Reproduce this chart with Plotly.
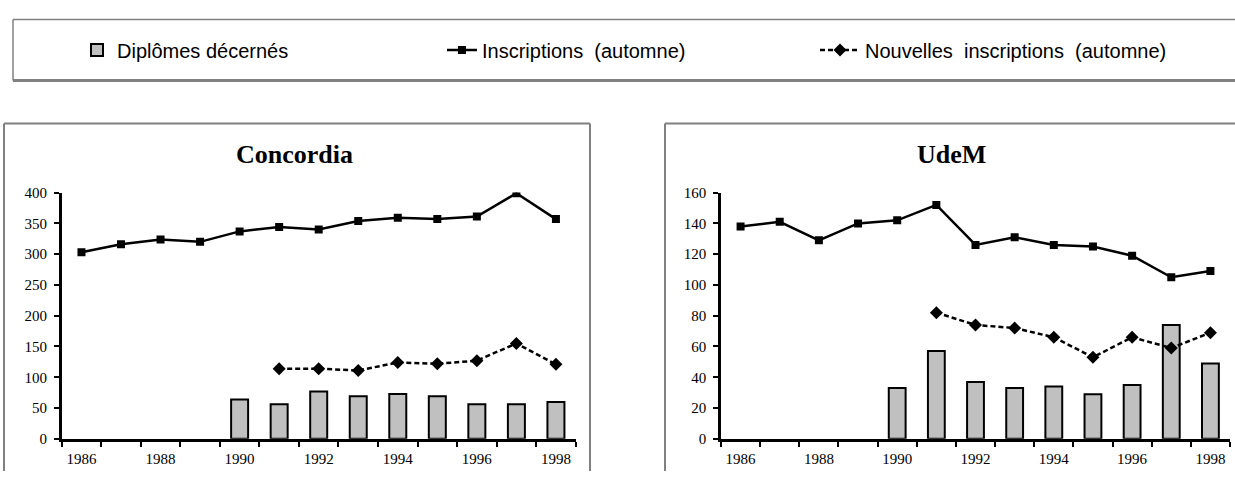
import plotly.graph_objects as go

# ---------------- data ----------------
years = [1986, 1987, 1988, 1989, 1990, 1991, 1992, 1993, 1994, 1995, 1996, 1997, 1998]
label_years = [1986, 1988, 1990, 1992, 1994, 1996, 1998]

bar_years = [1990, 1991, 1992, 1993, 1994, 1995, 1996, 1997, 1998]
new_years = [1991, 1992, 1993, 1994, 1995, 1996, 1997, 1998]

conc_inscr = [303, 316, 324, 320, 337, 344, 340, 354, 359, 357, 361, 399, 357]
conc_new = [114, 114, 111, 124, 122, 127, 155, 121]
conc_dipl = [64, 56, 77, 69, 73, 69, 56, 56, 60]

udem_inscr = [138, 141, 129, 140, 142, 152, 126, 131, 126, 125, 119, 105, 109]
udem_new = [82, 74, 72, 66, 53, 66, 59, 69]
udem_dipl = [33, 57, 37, 33, 34, 29, 35, 74, 49]

names = ["Diplômes décernés", "Inscriptions  (automne)", "Nouvelles  inscriptions  (automne)"]
titles = ["Concordia", "UdeM"]

# ---------------- figure ----------------
W, H = 1235, 479
def px(x):
    return x / W
def py(y):
    return 1 - y / H

fig = go.Figure()
serif = "Times New Roman, Liberation Serif, serif"
sans = "Arial, Liberation Sans, sans-serif"

datasets = [
    (conc_dipl, conc_inscr, conc_new, "x", "y"),
    (udem_dipl, udem_inscr, udem_new, "x2", "y2"),
]
for i, (dipl, inscr, new, xa, ya) in enumerate(datasets):
    show = i == 0
    fig.add_trace(go.Bar(
        x=bar_years, y=dipl, name=names[0], width=0.43,
        marker=dict(color="#C0C0C0", line=dict(color="black", width=2)),
        xaxis=xa, yaxis=ya, showlegend=show, legend="legend", legendgroup="d"))
    fig.add_trace(go.Scatter(
        x=years, y=inscr, name=names[1], mode="lines+markers",
        line=dict(color="black", width=2.5),
        marker=dict(symbol="square", size=8, color="black"),
        xaxis=xa, yaxis=ya, showlegend=show, legend="legend2", legendgroup="i"))
    fig.add_trace(go.Scatter(
        x=new_years, y=new, name=names[2], mode="lines+markers",
        line=dict(color="black", width=2.5, dash="5px,3px"),
        marker=dict(symbol="diamond", size=10, color="black"),
        xaxis=xa, yaxis=ya, showlegend=show, legend="legend3", legendgroup="n"))

boundaries = [y - 0.5 for y in years] + [years[-1] + 0.5]
xr = [years[0] - 0.5, years[-1] + 0.5]

ydom = [py(445.7), py(191)]
xdoms = [[px(61.7), px(575.7)], [px(721), px(1230)]]
yranges = [[0, 400], [0, 160]]
ydticks = [50, 20]

tickfont = dict(family=serif, size=15, color="black")
layout = dict(
    width=W, height=H, margin=dict(l=0, r=0, t=0, b=0),
    paper_bgcolor="white", plot_bgcolor="rgba(0,0,0,0)",
    barmode="overlay", showlegend=True,
)
for i in range(2):
    n = "" if i == 0 else "2"
    on = 3 + i
    layout["xaxis" + n] = dict(
        domain=xdoms[i], range=xr, anchor="y" + n,
        showline=True, linecolor="black", linewidth=2.5,
        tickvals=label_years, ticktext=[str(v) for v in label_years],
        ticks="outside", ticklen=4, tickcolor="rgba(0,0,0,0)",
        showgrid=False, zeroline=False, tickfont=tickfont,
        minor=dict(tickvals=boundaries, ticks="outside", ticklen=5, tickwidth=2,
                   tickcolor="black", showgrid=False),
    )
    layout["xaxis%d" % on] = dict(
        domain=xdoms[i], range=xr, anchor="y" + n, overlaying="x" + n,
        showline=False, tickvals=boundaries, ticks="inside", ticklen=5,
        tickwidth=2, tickcolor="black", showticklabels=False, showgrid=False,
        zeroline=False,
    )
    layout["yaxis" + n] = dict(
        domain=ydom, range=yranges[i], anchor="x" + n, dtick=ydticks[i],
        showline=True, linecolor="black", linewidth=2.5,
        ticks="outside", ticklen=5, tickwidth=2, tickcolor="black",
        ticklabelstandoff=4,
        showgrid=False, zeroline=False, tickfont=tickfont,
    )
    layout["yaxis%d" % on] = dict(
        domain=ydom, range=yranges[i], anchor="x" + n, overlaying="y" + n,
        side="left", dtick=ydticks[i], ticks="inside", ticklen=5, tickwidth=2,
        tickcolor="black", showticklabels=False, showgrid=False, zeroline=False,
        showline=False,
    )

legfont = dict(family=sans, size=20, color="black")
ly = py(43.5)
layout["legend"] = dict(x=px(77), y=ly, xanchor="left", yanchor="middle",
                        font=legfont, bgcolor="rgba(0,0,0,0)", borderwidth=0)
layout["legend2"] = dict(x=px(442), y=ly, xanchor="left", yanchor="middle",
                         font=legfont, bgcolor="rgba(0,0,0,0)", borderwidth=0)
layout["legend3"] = dict(x=px(815), y=ly, xanchor="left", yanchor="middle",
                         font=legfont, bgcolor="rgba(0,0,0,0)", borderwidth=0,
                         itemwidth=40)

fig.update_layout(**layout)

gray = "#808080"
shapes = [
    # legend frame
    dict(type="line", x0=px(13), x1=1.0, y0=py(12), y1=py(12), line=dict(color=gray, width=1.5)),
    dict(type="line", x0=px(13), x1=px(13), y0=py(12), y1=py(75), line=dict(color=gray, width=1.5)),
    dict(type="line", x0=px(13), x1=1.0, y0=py(75), y1=py(75), line=dict(color=gray, width=3)),
    # chart frames
    dict(type="line", x0=px(4), x1=px(590), y0=py(119.5), y1=py(119.5), line=dict(color=gray, width=2)),
    dict(type="line", x0=px(4), x1=px(4), y0=py(119.5), y1=0, line=dict(color=gray, width=2)),
    dict(type="line", x0=px(590), x1=px(590), y0=py(119.5), y1=0, line=dict(color=gray, width=2)),
    dict(type="line", x0=px(665), x1=1.0, y0=py(119.5), y1=py(119.5), line=dict(color=gray, width=2)),
    dict(type="line", x0=px(665), x1=px(665), y0=py(119.5), y1=0, line=dict(color=gray, width=2)),
]
for s in shapes:
    s.update(xref="paper", yref="paper", layer="below")
fig.update_layout(shapes=shapes)

title_x = [294, 951.7]
for t, xc in zip(titles, title_x):
    fig.add_annotation(text="<b>%s</b>" % t, x=px(xc), y=py(152), xref="paper", yref="paper",
                       xanchor="center", yanchor="middle", showarrow=False,
                       font=dict(family=serif, size=26, color="black"))

fig.write_html(
    "out.html",
    config={"displayModeBar": False},
    post_script="document.body.style.margin='0';document.body.style.padding='0';"
                "document.body.style.overflow='hidden';",
)
